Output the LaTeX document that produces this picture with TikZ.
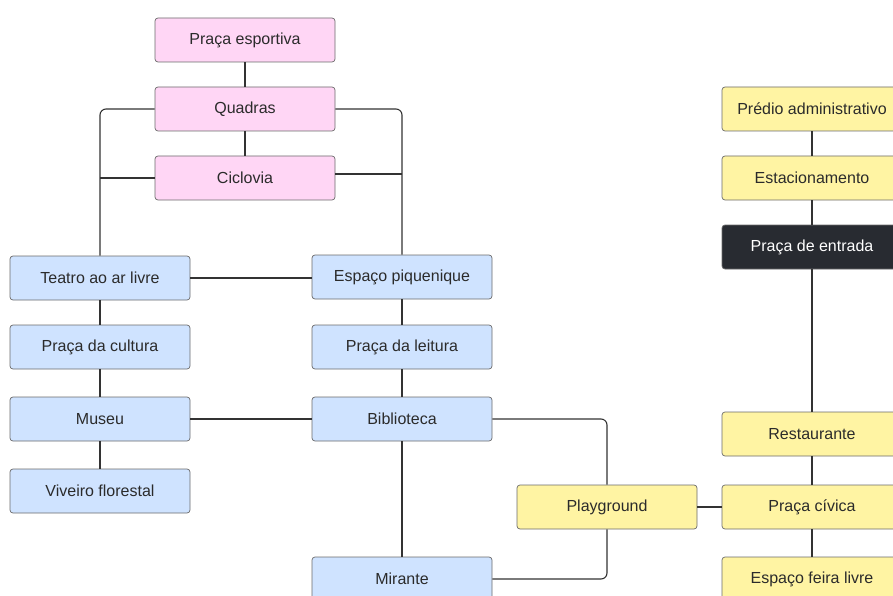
\documentclass[tikz,border=0pt]{standalone}
\usepackage{fontspec}
\setmainfont{Liberation Sans}
\definecolor{pinkf}{HTML}{FFD6F5}
\definecolor{bluef}{HTML}{CFE3FF}
\definecolor{yellf}{HTML}{FFF4A3}
\definecolor{darkf}{HTML}{282B31}
\definecolor{edgec}{HTML}{6B6B6B}
\definecolor{linec}{HTML}{333333}
\definecolor{textc}{HTML}{2B2B2B}
\begin{document}
\begin{tikzpicture}[x=1pt,y=-1pt,
  box/.style={draw=edgec,line width=0.7pt,rounded corners=3pt,minimum width=180pt,minimum height=44pt,inner sep=0pt,font=\fontsize{16}{18}\selectfont,text=textc},
  pinkbox/.style={box,fill=pinkf},
  bluebox/.style={box,fill=bluef},
  yellbox/.style={box,fill=yellf},
  darkbox/.style={box,fill=darkf,text=white},
  conn/.style={draw=linec,line width=1.1pt,rounded corners=6pt}]
\useasboundingbox (0,0) rectangle (893,596);
\node[pinkbox] (pe) at (245,40) {Praça esportiva};
\node[pinkbox] (qu) at (245,109) {Quadras};
\node[pinkbox] (ci) at (245,178) {Ciclovia};
\node[bluebox] (te) at (100,278) {Teatro ao ar livre};
\node[bluebox] (pc) at (100,347) {Praça da cultura};
\node[bluebox] (mu) at (100,419) {Museu};
\node[bluebox] (vi) at (100,491) {Viveiro florestal};
\node[bluebox] (ep) at (402,277) {Espaço piquenique};
\node[bluebox] (pl) at (402,347) {Praça da leitura};
\node[bluebox] (bi) at (402,419) {Biblioteca};
\node[bluebox] (mi) at (402,579) {Mirante};
\node[yellbox] (py) at (607,507) {Playground};
\node[yellbox] (pa) at (812,109) {Prédio administrativo};
\node[yellbox] (es) at (812,178) {Estacionamento};
\node[darkbox] (en) at (812,247) {Praça de entrada};
\node[yellbox] (re) at (812,434) {Restaurante};
\node[yellbox] (cv) at (812,507) {Praça cívica};
\node[yellbox] (fl) at (812,579) {Espaço feira livre};
\draw[conn] (pe) -- (qu);
\draw[conn] (qu) -- (ci);
\draw[conn] (qu.west) -| (te.north);
\draw[conn] (ci.west) -- (ci.west -| te.north);
\draw[conn] (qu.east) -| (ep.north);
\draw[conn] ([yshift=4pt]ci.east) -- ([yshift=4pt]ci.east -| ep.north);
\draw[conn] (te) -- (pc);
\draw[conn] (pc) -- (mu);
\draw[conn] (mu) -- (vi);
\draw[conn] (te.east) -- (te.east -| ep.west);
\draw[conn] (ep) -- (pl);
\draw[conn] (pl) -- (bi);
\draw[conn] (mu) -- (bi);
\draw[conn] (bi) -- (mi);
\draw[conn] (bi.east) -| (py.north);
\draw[conn] (mi.east) -| (py.south);
\draw[conn] (py) -- (cv);
\draw[conn] (pa) -- (es);
\draw[conn] (es) -- (en);
\draw[conn] (en) -- (re);
\draw[conn] (re) -- (cv);
\draw[conn] (cv) -- (fl);
\end{tikzpicture}
\end{document}
